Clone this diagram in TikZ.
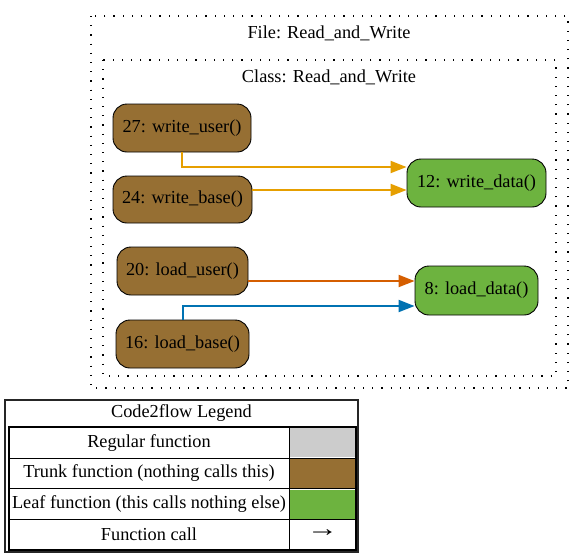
\documentclass[tikz,border=0pt]{standalone}
\usepackage{fontspec}
\setmainfont{Liberation Serif}
\usetikzlibrary{arrows.meta}
\definecolor{trunk}{HTML}{966F33}
\definecolor{leaf}{HTML}{6DB33F}
\definecolor{regular}{HTML}{CCCCCC}
\definecolor{ewrite}{HTML}{E69F00}
\definecolor{eluser}{HTML}{D55E00}
\definecolor{elbase}{HTML}{0072B2}
\tikzset{
  fn/.style={draw=black, line width=0.9pt, rounded corners=14pt, inner sep=0pt, font=\fontsize{18.3}{21}\selectfont},
  trunkfn/.style={fn, fill=trunk},
  leaffn/.style={fn, fill=leaf},
  call/.style={line width=2pt, -{Triangle[length=16pt,width=12pt]}},
  frame/.style={draw=black, line width=1.2pt, dash pattern=on 1.2pt off 8pt},
  lbl/.style={font=\fontsize{18.3}{21}\selectfont, inner sep=0pt},
}
\begin{document}
\begin{tikzpicture}[x=1pt,y=-1pt]
\useasboundingbox (0,0) rectangle (583,558);
% frames
\draw[frame] (91,16) rectangle (568,388);
\draw[frame] (103,60) rectangle (556,376);
\node[lbl] (filet) at (329,33) {File: Read\_and\_Write};
\node[lbl] (classt) at (329,77) {Class: Read\_and\_Write};
% nodes
\node[trunkfn, minimum width=138pt, minimum height=48pt] (wu) at (182,128) {27: write\_user()};
\node[trunkfn, minimum width=139pt, minimum height=47pt] (wb) at (182.5,199.5) {24: write\_base()};
\node[leaffn, minimum width=139pt, minimum height=48pt] (wd) at (476.5,183) {12: write\_data()};
\node[trunkfn, minimum width=131pt, minimum height=48pt] (lu) at (182.5,271) {20: load\_user()};
\node[trunkfn, minimum width=133pt, minimum height=48pt] (lb) at (182.5,344) {16: load\_base()};
\node[leaffn, minimum width=123pt, minimum height=49pt] (ld) at (476.5,290.5) {8: load\_data()};
% edges
\draw[call, ewrite] (wu.south) |- ([yshift=16pt]wd.west);
\draw[call, ewrite] ([yshift=9.5pt]wb.east) -- ([yshift=9.5pt]wb.east -| wd.west);
\draw[call, eluser] ([yshift=-10pt]lu.east) -- ([yshift=-10pt]lu.east -| ld.west);
\draw[call, elbase] (lb.north) |- ([yshift=-15.5pt]ld.west);
% legend
\draw[line width=2pt, draw=black!85] (5,400) rectangle (358,552);
\draw[line width=2pt] (8.5,427) rectangle (355.5,549.5);
\fill[regular] (290,428) rectangle (355,457);
\fill[trunk] (290,459) rectangle (355,488);
\fill[leaf] (290,489.5) rectangle (355,518.5);
\draw[line width=1pt] (289,427) -- (289,549.5);
\draw[line width=1pt] (8.5,458) -- (355.5,458);
\draw[line width=1pt] (8.5,488.5) -- (355.5,488.5);
\draw[line width=1pt] (8.5,519) -- (355.5,519);
\node[lbl] (lgt) at (181.5,413.5) {Code2flow Legend};
\node[lbl] (lg1) at (149,443) {Regular function};
\node[lbl] (lg2) at (149,473.5) {Trunk function (nothing calls this)};
\node[lbl] (lg3) at (149,504) {Leaf function (this calls nothing else)};
\node[lbl] (lg4) at (149,534.5) {Function call};
\node[lbl, font=\fontsize{24}{26}\selectfont] (lga) at (322.5,533) {\scalebox{1.3}[1]{→}};
\end{tikzpicture}
\end{document}
